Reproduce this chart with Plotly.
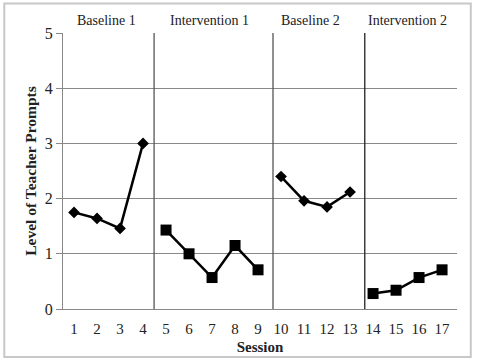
import plotly.graph_objects as go

phases = ["Baseline 1", "Intervention 1", "Baseline 2", "Intervention 2"]
phase_sessions = [[1, 2, 3, 4], [5, 6, 7, 8, 9], [10, 11, 12, 13], [14, 15, 16, 17]]
phase_values = [[1.75, 1.64, 1.46, 3.0],
                [1.43, 1.0, 0.57, 1.15, 0.71],
                [2.40, 1.96, 1.85, 2.12],
                [0.28, 0.34, 0.57, 0.71]]
phase_label_x = [2.4, 6.9, 11.3, 15.5]
phase_lines = [4.48, 9.65, 13.64]
y_ticks = [0, 1, 2, 3, 4, 5]

FONT = "Liberation Serif, Times New Roman, serif"

fig = go.Figure()
for i, (xs, ys) in enumerate(zip(phase_sessions, phase_values)):
    sym = "diamond" if i % 2 == 0 else "square"
    size = 9 if i % 2 == 0 else 11
    fig.add_trace(go.Scatter(x=xs, y=ys, mode="lines+markers",
                             line=dict(color="black", width=2.5),
                             marker=dict(symbol=sym, size=size, color="black"),
                             showlegend=False, cliponaxis=False))

shapes = []
for j, px in enumerate(phase_lines):
    shapes.append(dict(type="line", xref="x", yref="y", x0=px, x1=px, y0=0, y1=5,
                       line=dict(color="#555" if j < 2 else "#222", width=1.3)))
shapes.append(dict(type="rect", xref="paper", yref="paper", x0=-0.149, x1=1.035,
                   y0=-0.174, y1=1.107, line=dict(color="#c8c8c8", width=2)))

annotations = []
for lbl, lx in zip(phases, phase_label_x):
    annotations.append(dict(text=lbl, x=lx, xref="x", y=1.044, yref="paper",
                            showarrow=False, yanchor="middle",
                            font=dict(family=FONT, size=14, color="#222")))

fig.update_layout(
    width=479, height=360,
    margin=dict(l=63, r=22, t=33, b=51),
    paper_bgcolor="white", plot_bgcolor="white",
    shapes=shapes, annotations=annotations,
    font=dict(family=FONT, color="#222"),
    xaxis=dict(range=[0.52, 17.65], tickmode="array", automargin=False,
               tickvals=list(range(1, 18)), ticktext=[str(v) for v in range(1, 18)],
               showgrid=False, zeroline=False, showline=True, linecolor="#888",
               linewidth=1, ticks="", ticklabelstandoff=6,
               tickfont=dict(family=FONT, size=15, color="#222"),
               title=dict(text="<b>Session</b>", font=dict(family=FONT, size=15, color="#222"),
                          standoff=5)),
    yaxis=dict(range=[0, 5], tickmode="array", tickvals=y_ticks, automargin=False,
               ticktext=[str(v) for v in y_ticks],
               showgrid=True, gridcolor="#888", gridwidth=1, zeroline=False,
               showline=True, linecolor="#888", linewidth=1,
               ticks="outside", ticklen=6, tickcolor="#888",
               tickfont=dict(family=FONT, size=16, color="#222"),
               title=dict(text="<b>Level of Teacher Prompts</b>",
                          font=dict(family=FONT, size=15.5, color="#222"), standoff=4)),
)

fig.write_html("out.html")
